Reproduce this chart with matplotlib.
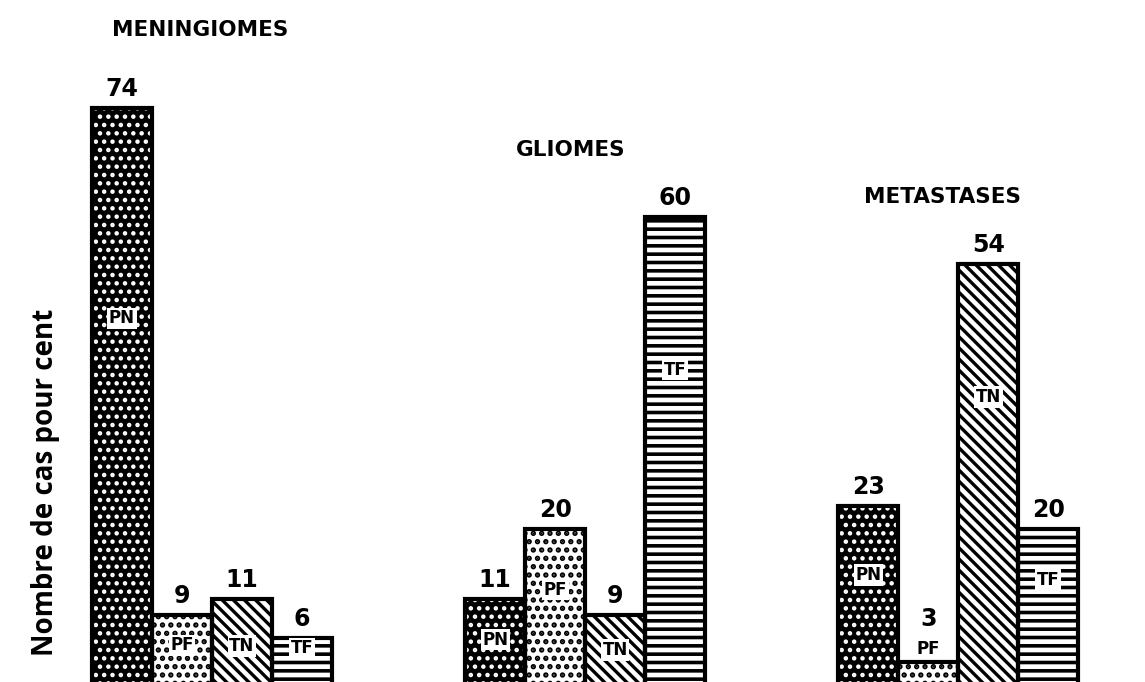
import matplotlib
matplotlib.use("Agg")
import matplotlib.pyplot as plt

# data
groups = ["MENINGIOMES", "GLIOMES", "METASTASES"]
kinds = ["PN", "PF", "TN", "TF"]
meningiomes = [74, 9, 11, 6]
gliomes = [11, 20, 9, 60]
metastases = [23, 3, 54, 20]
values = [meningiomes, gliomes, metastases]

# where the little in-bar tag sits (data units), per group
tag_y = [[47, 5.1, 5.0, 4.7],
         [5.8, 12.2, 4.5, 40.4],
         [14.1, 4.6, 36.9, 13.5]]

plt.rcParams["font.family"] = ["DejaVu Sans"]

fig = plt.figure(figsize=(11.45, 6.82), dpi=100)
ax = fig.add_axes([0, 0, 1, 1])

group_step = 6.22
bar_w = 1.0

styles = {
    "PN": dict(fc="black", hc="white", hatch="..", lw=2.0),
    "PF": dict(fc="white", hc="black", hatch="..", lw=2.6),
    "TN": dict(fc="white", hc="black", hatch="\\\\\\", lw=2.4),
    "TF": dict(fc="white", hc="black", hatch="--", lw=2.6),
}

title_pos = [(1.8, 84.0), (7.97, 68.6), (14.18, 62.6)]

for g, (name, vals) in enumerate(zip(groups, values)):
    x0 = g * group_step
    for i, (k, v) in enumerate(zip(kinds, vals)):
        x = x0 + i
        st = styles[k]
        # hatched fill, then a thick black outline on top
        with plt.rc_context({"hatch.linewidth": st["lw"]}):
            ax.bar(x, v, width=bar_w, align="edge", color=st["fc"],
                   edgecolor=st["hc"], hatch=st["hatch"], linewidth=0,
                   zorder=2)
        ax.bar(x, v, width=bar_w, align="edge", fill=False,
               edgecolor="black", linewidth=3, zorder=3)
        lifted = (g == 2 and k == "PF")
        ax.annotate(str(v), (x + 0.5, v), xytext=(0, 22 if lifted else 5),
                    textcoords="offset points", ha="center", va="bottom",
                    fontsize=17, fontweight="bold")
        box = None if lifted else dict(boxstyle="square,pad=0.1",
                                       fc="white", ec="none")
        ax.text(x + 0.5, tag_y[g][i], k, ha="center", va="center",
                fontsize=12, fontweight="bold", zorder=4, bbox=box)
    ax.text(title_pos[g][0], title_pos[g][1], name, ha="center",
            va="center", fontsize=15.5, fontweight="bold")

ax.text(-0.78, 26, "Nombre de cas pour cent", rotation=90, ha="center",
        va="center", fontsize=20, fontweight="bold",
        family=["Open Sans", "DejaVu Sans"])

ax.set_xlim(-1.533, 17.55)
ax.set_ylim(0.38, 87.8)
ax.axis("off")

fig.savefig("out.png", dpi=100)
